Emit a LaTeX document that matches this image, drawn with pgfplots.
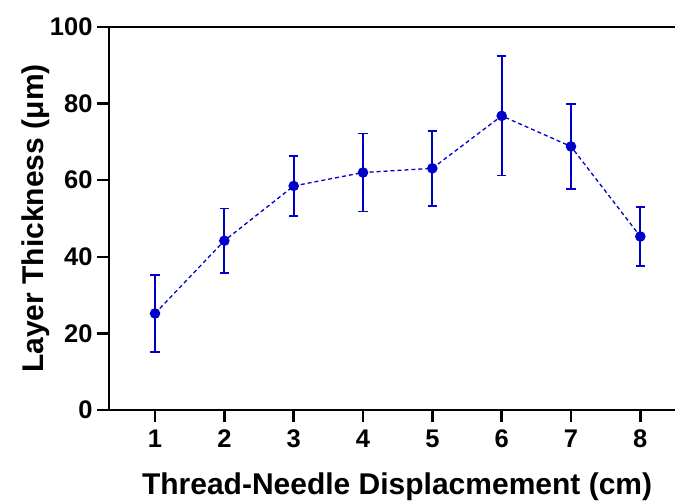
\documentclass[border=0pt]{standalone}
\usepackage{fontspec}
\setmainfont{Liberation Sans}
\usepackage{pgfplots}
\pgfplotsset{compat=1.18}
\definecolor{ptblue}{RGB}{0,0,200}
\begin{document}
\begin{tikzpicture}
\path[use as bounding box] (-109pt,-92pt) rectangle (566pt,410pt);
\begin{axis}[
  scale only axis,
  width=566pt, height=383pt,
  xmin=0.336, xmax=8.5,
  ymin=0, ymax=100,
  axis x line*=box, axis y line*=left,
  xtick={1,...,8}, ytick={0,20,...,100},
  xtick pos=bottom, ytick pos=left,
  tick align=outside,
  major tick length=12pt,
  every tick/.style={black, line width=2.5pt},
  axis line style={line width=2.8pt, black},
  /pgf/number format/assume math mode=true,
  ticklabel style={font=\fontsize{25.5}{30}\selectfont\bfseries},
  xticklabel style={yshift=-4pt},
  yticklabel style={xshift=-1pt},
  xlabel={Thread-Needle Displacmement (cm)},
  ylabel={Layer Thickness (μm)},
  every axis y label/.style={at={(axis description cs:-0.13,0.5)}, rotate=90, anchor=center, font=\fontsize{30}{34}\selectfont\bfseries},
  every axis x label/.style={at={(axis description cs:0.509,-0.201)}, anchor=center, font=\fontsize{30}{34}\selectfont\bfseries},
  clip=false,
]
\addplot[ptblue, densely dashed, dash pattern=on 4pt off 3pt, line width=1.3pt,
  mark=*, mark size=4.6pt, mark options={solid, fill=ptblue},
  error bars/.cd, y dir=both, y explicit,
  error bar style={line width=1.8pt, solid},
  error mark options={rotate=90, mark size=4.8pt, line width=1.8pt, solid}]
coordinates {
  (1,25.2) +- (10.3,10.1)
  (2,44.2) +- (8.5,8.4)
  (3,58.5) +- (7.8,7.8)
  (4,62.0) +- (10.1,10.2)
  (5,63.1) +- (9.7,9.8)
  (6,76.8) +- (15.7,15.6)
  (7,68.8) +- (11.1,11.0)
  (8,45.3) +- (7.5,7.7)
};
\end{axis}
\end{tikzpicture}
\end{document}
